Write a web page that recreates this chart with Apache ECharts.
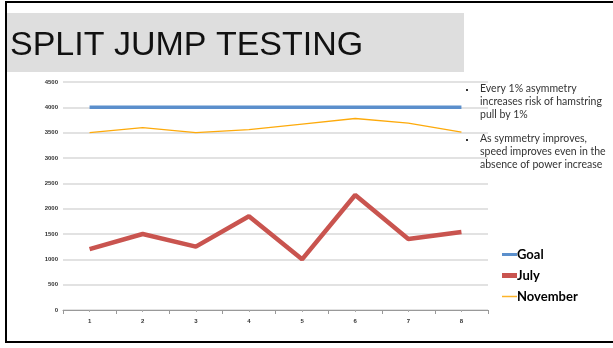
<!DOCTYPE html>
<html>
<head>
<meta charset="utf-8">
<script src="https://cdn.jsdelivr.net/npm/echarts@6/dist/echarts.min.js"></script>
<style>
  html, body { margin: 0; padding: 0; background: #fff; }
  #chart_wrap { width: 613px; height: 348px; }
</style>
</head>
<body>
<div id="chart_wrap"></div>
<script>
var categories = ['1', '2', '3', '4', '5', '6', '7', '8'];
var goal = [4000, 4000, 4000, 4000, 4000, 4000, 4000, 4000];
var july = [1200, 1500, 1250, 1850, 1000, 2270, 1400, 1540];
var november = [3500, 3600, 3500, 3560, 3670, 3780, 3690, 3510];
var yTicks = { min: 0, max: 4500, interval: 500 };
var bullets = [
    'Every 1% asymmetry\nincreases risk of hamstring\npull by 1%',
    'As symmetry improves,\nspeed improves even in the\nabsence of power increase'
];

var chart_wrap = document.getElementById('chart_wrap');
var chart = echarts.init(chart_wrap);

var bodyFont = 'Lato, "Open Sans", sans-serif';

option = {
    backgroundColor: '#fff',
    animation: false,
    graphic: [
        // slide frame
        { type: 'rect', shape: { x: 6, y: 2, width: 620, height: 340 },
          style: { fill: 'none', stroke: '#000', lineWidth: 2 }, z: 100 },
        // title banner
        { type: 'rect', shape: { x: 7, y: 13, width: 457, height: 59 },
          style: { fill: '#dedede' }, z: -1 },
        { type: 'text', left: 10, top: 29,
          style: { text: 'SPLIT JUMP TESTING', fill: '#111',
                   font: '34px "Liberation Sans", Arial, sans-serif' } },
        // bullet points
        { type: 'rect', shape: { x: 466, y: 89, width: 2, height: 2 }, style: { fill: '#333' } },
        { type: 'text', left: 480, top: 82,
          style: { text: bullets[0], fill: '#333', lineHeight: 13,
                   font: '10.5px ' + bodyFont } },
        { type: 'rect', shape: { x: 466, y: 139, width: 2, height: 2 }, style: { fill: '#333' } },
        { type: 'text', left: 480, top: 132,
          style: { text: bullets[1], fill: '#333', lineHeight: 13,
                   font: '10.5px ' + bodyFont } }
    ],
    legend: {
        orient: 'vertical',
        left: 497,
        top: 243,
        itemWidth: 15,
        itemHeight: 14,
        itemGap: 8,
        textStyle: { fontSize: 13, fontWeight: 'bold', color: '#000',
                     fontFamily: bodyFont, padding: [0, 0, 0, -5] },
        data: [
            { name: 'Goal', icon: 'path://M0,0H15V3H0Z', itemStyle: { color: '#5b8fcc' } },
            { name: 'July', icon: 'path://M0,0H15V5H0Z', itemStyle: { color: '#c9544f' } },
            { name: 'November', icon: 'path://M0,0H15V1.5H0Z', itemStyle: { color: '#fdb42a' } }
        ]
    },
    grid: { left: 63, right: 125, top: 82, bottom: 38 },
    xAxis: [
        {
            type: 'category',
            data: categories,
            boundaryGap: true,
            axisLine: { lineStyle: { color: '#999', width: 1 } },
            axisTick: { show: true, interval: 0, length: 4, lineStyle: { color: '#999' } },
            axisLabel: { fontSize: 6, fontWeight: 'bold', color: '#333', margin: 8 }
        },
        {
            type: 'category',
            data: categories,
            position: 'bottom',
            axisLine: { show: false },
            axisTick: { show: true, alignWithLabel: true, length: 2, lineStyle: { color: '#aaa' } },
            axisLabel: { show: false }
        }
    ],
    yAxis: {
        type: 'value',
        min: yTicks.min,
        max: yTicks.max,
        interval: yTicks.interval,
        axisLine: { show: false },
        axisTick: { show: false },
        axisLabel: { fontSize: 6, fontWeight: 'bold', color: '#333', margin: 5,
                     formatter: function (v) { return String(v); } },
        splitLine: { lineStyle: { color: '#d9d9d9', width: 1.5 } }
    },
    series: [
        {
            name: 'Goal', type: 'line', data: goal, showSymbol: false,
            lineStyle: { color: '#5b8fcc', width: 3.5 }, itemStyle: { color: '#5b8fcc' }
        },
        {
            name: 'July', type: 'line', data: july, showSymbol: false,
            lineStyle: { color: '#c9544f', width: 4.5 }, itemStyle: { color: '#c9544f' }
        },
        {
            name: 'November', type: 'line', data: november, showSymbol: false,
            lineStyle: { color: '#fdaa0b', width: 1.3 }, itemStyle: { color: '#fdb42a' }
        }
    ]
};

if (option && typeof option === 'object') {
    chart.setOption(option, true);
}
</script>
</body>
</html>
